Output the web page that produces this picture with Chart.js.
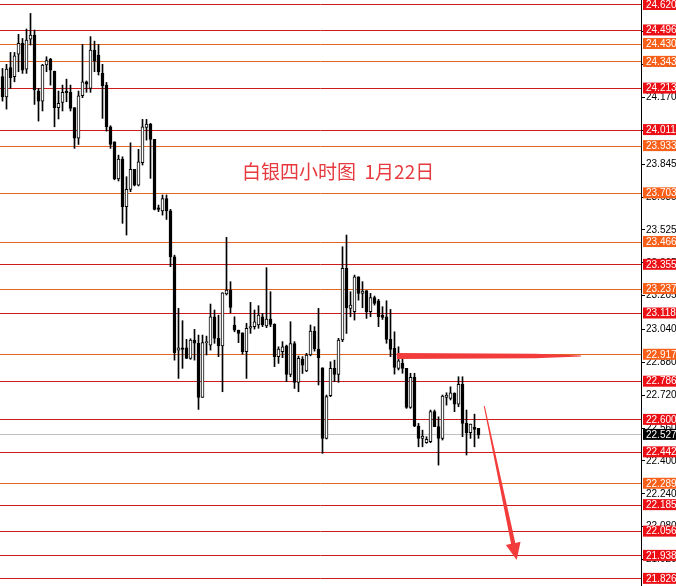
<!DOCTYPE html>
<html><head><meta charset="utf-8">
<script src="https://cdn.jsdelivr.net/npm/chart.js@4.4.1/dist/chart.umd.min.js"></script>
<style>html,body{margin:0;padding:0;background:#fff;}canvas{display:block;}</style>
</head><body>
<canvas id="c" width="676" height="586"></canvas>
<script>
// ---- candle data (4-hour silver) ----
const opens  = [24.271,24.173,24.315,24.271,24.380,24.433,24.308,24.453,24.474,24.201,24.152,24.328,24.357,24.298,24.120,24.146,24.201,24.195,24.120,23.971,24.178,24.246,24.214,24.401,24.376,24.287,24.230,24.027,23.954,23.773,23.870,23.638,23.722,23.820,23.743,23.852,24.024,24.040,23.966,23.633,23.618,23.678,23.618,23.394,22.940,22.951,22.951,22.899,22.989,22.973,22.710,22.976,22.964,23.102,22.997,22.960,23.213,23.232,23.062,23.037,23.024,22.932,23.046,23.054,23.062,23.102,23.058,23.091,23.065,22.908,22.932,22.961,22.822,22.972,22.783,22.896,22.838,22.916,23.033,22.945,22.854,22.510,22.718,22.851,22.822,22.989,23.338,23.143,23.127,23.297,23.216,23.229,23.127,23.196,23.180,23.110,23.102,22.992,22.948,22.851,22.875,22.851,22.661,22.807,22.570,22.510,22.489,22.494,22.640,22.567,22.510,22.710,22.705,22.729,22.677,22.773,22.583,22.538,22.564,22.559];
const highs  = [24.311,24.331,24.389,24.389,24.477,24.457,24.503,24.579,24.498,24.214,24.331,24.368,24.360,24.298,24.201,24.230,24.259,24.230,24.120,24.201,24.428,24.250,24.466,24.444,24.428,24.331,24.243,24.032,23.954,23.889,23.881,23.784,23.949,23.820,23.917,24.063,24.063,24.044,23.966,23.646,23.695,23.695,23.625,23.402,23.143,23.083,22.992,22.995,23.041,23.013,23.013,23.008,23.164,23.135,23.110,23.219,23.489,23.273,23.102,23.037,23.024,23.070,23.172,23.135,23.156,23.119,23.341,23.224,23.068,22.956,22.981,22.964,23.078,22.981,22.911,22.908,22.924,23.062,23.054,23.143,22.854,22.721,22.883,22.891,22.997,23.443,23.500,23.224,23.305,23.297,23.273,23.229,23.216,23.203,23.187,23.151,23.180,23.138,23.029,22.956,22.911,22.851,22.827,22.827,22.583,22.550,22.518,22.648,22.648,22.615,22.721,22.732,22.761,22.732,22.810,22.810,22.648,22.580,22.628,22.559];
const lows   = [24.152,24.113,24.214,24.246,24.295,24.287,24.287,24.425,24.136,24.055,24.104,24.295,24.230,24.027,24.065,24.104,24.149,24.104,23.922,23.941,24.169,24.195,24.195,24.295,24.279,24.068,24.006,23.922,23.769,23.763,23.557,23.500,23.711,23.739,23.739,23.841,23.962,23.776,23.622,23.614,23.597,23.576,23.346,22.891,22.802,22.851,22.899,22.895,22.891,22.651,22.710,22.916,22.940,22.973,22.908,22.737,23.208,23.122,23.029,22.976,22.920,22.802,23.021,23.042,23.046,23.054,23.049,23.054,22.859,22.875,22.903,22.786,22.810,22.753,22.737,22.826,22.835,22.912,22.935,22.770,22.437,22.507,22.713,22.786,22.783,22.981,23.021,23.102,23.086,23.183,23.146,23.094,23.102,23.159,23.054,23.089,22.973,22.908,22.823,22.843,22.827,22.656,22.656,22.567,22.469,22.469,22.486,22.489,22.567,22.380,22.502,22.672,22.697,22.640,22.664,22.518,22.429,22.510,22.469,22.510];
const closes = [24.173,24.308,24.266,24.373,24.433,24.303,24.449,24.474,24.206,24.152,24.328,24.349,24.303,24.120,24.141,24.195,24.193,24.117,23.971,24.178,24.246,24.235,24.401,24.347,24.295,24.227,24.027,23.941,23.773,23.870,23.638,23.722,23.820,23.743,23.857,24.027,24.040,23.966,23.625,23.625,23.678,23.618,23.394,22.927,22.951,22.943,22.899,22.989,22.973,22.710,22.976,22.981,23.102,22.997,22.960,23.219,23.232,23.148,23.037,23.021,22.932,23.046,23.054,23.078,23.110,23.062,23.091,23.065,22.908,22.945,22.956,22.822,22.972,22.783,22.900,22.867,22.916,23.033,22.945,22.903,22.510,22.713,22.851,22.821,22.989,23.338,23.146,23.159,23.297,23.216,23.227,23.127,23.196,23.167,23.102,23.099,22.992,22.943,22.856,22.888,22.851,22.661,22.807,22.570,22.510,22.521,22.505,22.640,22.567,22.510,22.716,22.721,22.732,22.677,22.773,22.583,22.538,22.580,22.554,22.527];

// ---- horizontal price levels (r = red, o = orange, p = current price) ----
const levelValues = [24.620,24.496,24.430,24.343,24.213,24.011,23.933,23.703,23.466,23.355,23.237,23.118,22.917,22.786,22.600,22.527,22.442,22.289,22.185,22.056,21.938,21.826];
const levelKinds  = ['r','r','o','o','r','r','o','o','o','r','o','r','o','r','r','p','r','o','r','r','r','r'];
// ---- regular price-axis ticks ----
const axisTicks = [24.490,24.330,24.170,24.010,23.845,23.685,23.525,23.365,23.205,23.040,22.880,22.720,22.560,22.400,22.240,22.080,21.920];

const titleText = '白银四小时图  1月22日';
const titleAt = [83.9, 23.807];            // [bar slot, price]
const hLineFrom = [98.6, 22.911], hLineTo = [144.6, 22.911];
const arrowFrom = [120.45, 22.667], arrowTo = [128.55, 21.918];

const priceMin = 21.7913, priceMax = 24.6443;
const slotMin = -0.625, slotMax = 159.625;

const LINE = {r:'#cc1c1c', o:'#e4661e', p:'#c0c0c0'};
const BOX  = {r:'#ec1016', o:'#f8601a', p:'#000000'};

const idx = opens.map((_, i) => i);
const wicks = idx.map(i => ({x: i, y: [lows[i], highs[i]]}));
const bodies = idx.map(i => ({x: i, y: [Math.min(opens[i], closes[i]), Math.max(opens[i], closes[i])]}));
const bodyFill = idx.map(i => closes[i] >= opens[i] ? '#ffffff' : '#000000');

function levelIndex(v) {
  for (let k = 0; k < levelValues.length; k++) if (Math.abs(levelValues[k] - v) < 1e-9) return k;
  return -1;
}

const annot = {
  id: 'annot',
  afterDatasetsDraw(chart) {
    const ctx = chart.ctx, xs = chart.scales.x, ys = chart.scales.y;
    const P = p => [xs.getPixelForValue(p[0]), ys.getPixelForValue(p[1])];
    ctx.save();
    // title
    const t = P(titleAt);
    ctx.font = '19px "Noto Sans CJK SC"';
    ctx.fillStyle = '#e63a3e';
    ctx.textAlign = 'center';
    ctx.textBaseline = 'middle';
    ctx.fillText(titleText, t[0], t[1]);
    // thick tapered horizontal stroke
    const a = P(hLineFrom), b = P(hLineTo);
    const len = b[0] - a[0];
    ctx.fillStyle = '#f23b3b';
    ctx.beginPath();
    ctx.moveTo(a[0], a[1] - 3);
    ctx.lineTo(a[0] + len * 0.75, a[1] - 2.3);
    ctx.lineTo(b[0], b[1] - 0.4);
    ctx.lineTo(b[0], b[1] + 0.4);
    ctx.lineTo(a[0] + len * 0.75, a[1] + 2.3);
    ctx.lineTo(a[0], a[1] + 3);
    ctx.closePath();
    ctx.fill();
    // arrow
    const s = P(arrowFrom), e = P(arrowTo);
    const dx = e[0] - s[0], dy = e[1] - s[1];
    const L = Math.hypot(dx, dy);
    const ux = dx / L, uy = dy / L, nx = -uy, ny = ux;
    const headLen = 17, headHalf = 7.5;
    const bx = e[0] - ux * headLen, by = e[1] - uy * headLen;
    ctx.fillStyle = '#f23b3b';
    ctx.beginPath();
    ctx.moveTo(s[0] + nx * 0.5, s[1] + ny * 0.5);
    ctx.lineTo(bx + nx * 2.2, by + ny * 2.2);
    ctx.lineTo(bx + nx * headHalf, by + ny * headHalf);
    ctx.lineTo(e[0], e[1]);
    ctx.lineTo(bx - nx * headHalf, by - ny * headHalf);
    ctx.lineTo(bx - nx * 2.2, by - ny * 2.2);
    ctx.lineTo(s[0] - nx * 0.5, s[1] - ny * 0.5);
    ctx.closePath();
    ctx.fill();
    ctx.restore();
  }
};

new Chart(document.getElementById('c'), {
  type: 'bar',
  data: {
    datasets: [
      {
        label: 'body', data: bodies, order: 1, grouped: false,
        backgroundColor: bodyFill, borderColor: '#000', borderWidth: 1, borderSkipped: false,
        maxBarThickness: 3, barPercentage: 1, categoryPercentage: 1, minBarLength: 1
      },
      {
        label: 'wick', data: wicks, order: 2, grouped: false,
        backgroundColor: '#000', borderWidth: 0,
        maxBarThickness: 1, barPercentage: 1, categoryPercentage: 1
      }
    ]
  },
  options: {
    responsive: false,
    animation: false,
    devicePixelRatio: 1,
    layout: {padding: 0},
    plugins: {legend: {display: false}, tooltip: {enabled: false}},
    scales: {
      x: {type: 'linear', min: slotMin, max: slotMax, display: false, offset: false},
      y: {
        type: 'linear', position: 'right', min: priceMin, max: priceMax,
        afterBuildTicks: (s) => { s.ticks = axisTicks.concat(levelValues).map(v => ({value: v})); },
        afterFit: (s) => { s.width = 35; s.paddingTop = 0; s.paddingBottom = 0; },
        border: {display: true, color: '#000', width: 1},
        grid: {
          drawOnChartArea: true, drawTicks: true, tickLength: 4, lineWidth: 1,
          color: (c) => { const k = levelIndex(c.tick.value); return k < 0 ? 'rgba(0,0,0,0)' : LINE[levelKinds[k]]; },
          tickColor: (c) => { const k = levelIndex(c.tick.value); return k < 0 ? '#000' : 'rgba(0,0,0,0)'; }
        },
        ticks: {
          autoSkip: false, padding: 1,
          font: {family: '"Liberation Sans", Arial, sans-serif', size: 10, lineHeight: 1.0},
          color: (c) => levelIndex(c.tick.value) < 0 ? '#000' : '#fff',
          showLabelBackdrop: true,
          backdropColor: (c) => { const k = levelIndex(c.tick.value); return k < 0 ? 'rgba(0,0,0,0)' : BOX[levelKinds[k]]; },
          backdropPadding: {left: 3, right: 6, top: 1, bottom: 0},
          callback: (v) => Number(v).toFixed(3)
        }
      }
    }
  },
  plugins: [annot]
});
</script>
</body></html>
